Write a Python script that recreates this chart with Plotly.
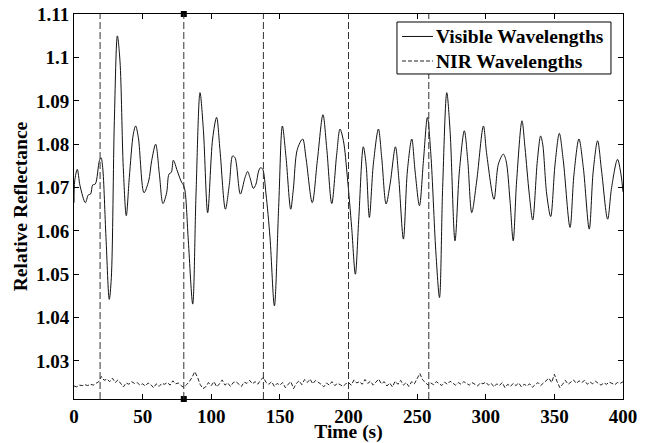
import plotly.graph_objects as go

vis_t = [0, 0.5, 2.4, 4.4, 8.3, 10.4, 12.1, 13.6, 15.5, 18.5, 19.7, 20.9, 23.3, 25.7, 27.2,
         29.4, 31.6, 33.5, 35.9, 38.1, 40.3, 43.2, 44.9, 46.9, 51.0, 54.4, 56.6, 59.5, 62.2,
         64.8, 67.5, 69.2, 70.9, 72.4, 75.3, 78.4, 79.7, 80.9, 83.3, 86.5, 88.9, 91.8, 94.3,
         97.4, 101.0, 103.9, 106.4, 110.3, 113.2, 115.6, 117.3, 121.2, 124.6, 126.5, 128.2,
         130.7, 132.6, 134.5, 136.0, 137.5, 139.9, 142.8, 146.0, 149.1, 151.8, 154.5, 157.9,
         159.8, 162.7, 166.6, 169.0, 173.6, 177.3, 181.4, 184.1, 187.8, 191.4, 193.8, 196.3,
         199.2, 202.3, 205.0, 207.4, 210.8, 212.8, 215.2, 218.1, 221.8, 224.2, 227.4, 230.3,
         234.2, 236.6, 240.0, 242.9, 246.1, 248.5, 251.7, 254.6, 257.5, 260.0, 263.6, 266.3,
         268.6, 271.6, 274.0, 277.6, 280.8, 284.4, 286.9, 289.8, 293.4, 298.3, 300.7, 306.0,
         309.2, 312.8, 314.8, 317.7, 320.0, 322.5, 326.4, 328.6, 331.7, 334.2, 337.6, 340.0,
         341.5, 344.4, 347.3, 350.5, 353.6, 356.5, 361.4, 364.3, 367.9, 371.1, 375.4, 378.3,
         381.5, 384.4, 388.8, 391.7, 396.0, 398.5, 400.0]
vis_r = [1.0665, 1.0715, 1.0742, 1.0704, 1.0665, 1.0683, 1.0685, 1.0706, 1.0708, 1.0762,
         1.0769, 1.0746, 1.0585, 1.0442, 1.0492, 1.0854, 1.1050, 1.0992, 1.0746, 1.0635,
         1.0723, 1.0823, 1.0842, 1.0815, 1.0688, 1.0715, 1.0762, 1.0800, 1.0731, 1.0663,
         1.0688, 1.0731, 1.0735, 1.0763, 1.0738, 1.0712, 1.0706, 1.0692, 1.0577, 1.0431,
         1.0685, 1.0919, 1.0831, 1.0642, 1.0812, 1.0862, 1.0785, 1.0650, 1.0708, 1.0773,
         1.0769, 1.0685, 1.0723, 1.0737, 1.0723, 1.0698, 1.0708, 1.0738, 1.0746, 1.0742,
         1.0685, 1.0585, 1.0427, 1.0654, 1.0842, 1.0769, 1.0650, 1.0696, 1.0788, 1.0812,
         1.0769, 1.0665, 1.0762, 1.0868, 1.0792, 1.0663, 1.0777, 1.0835, 1.0808, 1.0723,
         1.0608, 1.0500, 1.0623, 1.0794, 1.0754, 1.0631, 1.0754, 1.0835, 1.0769, 1.0662,
         1.0708, 1.0794, 1.0723, 1.0581, 1.0738, 1.0812, 1.0738, 1.0658, 1.0762, 1.0862,
         1.0777, 1.0554, 1.0446, 1.0700, 1.0919, 1.0831, 1.0577, 1.0738, 1.0831, 1.0762,
         1.0642, 1.0715, 1.0842, 1.0777, 1.0673, 1.0754, 1.0777, 1.0762, 1.0669, 1.0577,
         1.0715, 1.0854, 1.0792, 1.0685, 1.0625, 1.0762, 1.0819, 1.0800, 1.0685, 1.0633,
         1.0754, 1.0825, 1.0762, 1.0608, 1.0731, 1.0812, 1.0746, 1.0604, 1.0738, 1.0808,
         1.0738, 1.0627, 1.0700, 1.0765, 1.0731, 1.0690]

# NIR wavelengths, every 2 s
nir_t = list(range(0, 401, 2))
nir_r = [1.0242, 1.0240, 1.0244, 1.0243, 1.0245, 1.0243, 1.0246, 1.0244, 1.0248, 1.0252,
         1.0264, 1.0255, 1.0258, 1.0252, 1.0260, 1.0250, 1.0256, 1.0247, 1.0240, 1.0249,
         1.0246, 1.0252, 1.0248, 1.0250, 1.0244, 1.0247, 1.0242, 1.0249, 1.0245, 1.0238,
         1.0247, 1.0241, 1.0248, 1.0246, 1.0250, 1.0244, 1.0254, 1.0247, 1.0249, 1.0243,
         1.0239, 1.0245, 1.0252, 1.0262, 1.0275, 1.0262, 1.0245, 1.0236, 1.0240, 1.0250,
         1.0243, 1.0252, 1.0240, 1.0247, 1.0256, 1.0244, 1.0249, 1.0241, 1.0250, 1.0252,
         1.0246, 1.0241, 1.0251, 1.0248, 1.0255, 1.0247, 1.0252, 1.0246, 1.0256, 1.0262,
         1.0250, 1.0246, 1.0252, 1.0241, 1.0248, 1.0244, 1.0250, 1.0238, 1.0246, 1.0252,
         1.0236, 1.0248, 1.0254, 1.0245, 1.0257, 1.0250, 1.0258, 1.0247, 1.0255, 1.0251,
         1.0246, 1.0240, 1.0249, 1.0244, 1.0252, 1.0243, 1.0248, 1.0245, 1.0241, 1.0247,
         1.0250, 1.0244, 1.0256, 1.0249, 1.0252, 1.0246, 1.0257, 1.0248, 1.0253, 1.0244,
         1.0250, 1.0258, 1.0247, 1.0252, 1.0242, 1.0249, 1.0240, 1.0253, 1.0246, 1.0255,
         1.0244, 1.0250, 1.0241, 1.0252, 1.0247, 1.0258, 1.0271, 1.0256, 1.0250, 1.0244,
         1.0249, 1.0245, 1.0252, 1.0247, 1.0243, 1.0251, 1.0246, 1.0253, 1.0249, 1.0244,
         1.0250, 1.0246, 1.0252, 1.0248, 1.0244, 1.0250, 1.0245, 1.0242, 1.0249, 1.0247,
         1.0251, 1.0244, 1.0248, 1.0240, 1.0247, 1.0243, 1.0250, 1.0238, 1.0246, 1.0241,
         1.0248, 1.0243, 1.0249, 1.0240, 1.0246, 1.0242, 1.0247, 1.0239, 1.0245, 1.0250,
         1.0243, 1.0249, 1.0255, 1.0260, 1.0250, 1.0269, 1.0252, 1.0238, 1.0246, 1.0255,
         1.0246, 1.0252, 1.0256, 1.0248, 1.0254, 1.0250, 1.0255, 1.0246, 1.0251, 1.0247,
         1.0253, 1.0248, 1.0244, 1.0249, 1.0246, 1.0251, 1.0247, 1.0245, 1.0250, 1.0248,
         1.0252]

event_times = [19, 80, 138, 200, 258.5]
marker_time = 80

y_ticks = [1.03, 1.04, 1.05, 1.06, 1.07, 1.08, 1.09, 1.1, 1.11]
y_labels = ["1.03", "1.04", "1.05", "1.06", "1.07", "1.08", "1.09", "1.1", "1.11"]
x_ticks = list(range(0, 401, 50))

y_lo, y_hi = 1.0212, 1.11005
font = "Liberation Serif, Times New Roman, serif"

vis_style = dict(color="#111111", width=1)
nir_style = dict(color="#222222", width=1, dash="4px,2px")

fig = go.Figure()

fig.add_trace(go.Scatter(x=vis_t, y=vis_r, mode="lines", name="Visible Wavelengths",
                         line=dict(shape="spline", smoothing=0.9, **vis_style)))
fig.add_trace(go.Scatter(x=nir_t, y=nir_r, mode="lines", name="NIR Wavelengths",
                         line=nir_style))

# event markers
for t in event_times:
    fig.add_shape(type="line", xref="x", yref="y", x0=t, x1=t, y0=y_lo, y1=y_hi,
                  line=dict(color="#333333", width=1, dash="7px,3px"))
fig.add_trace(go.Scatter(x=[marker_time, marker_time], y=[y_lo, y_hi], mode="markers",
                         marker=dict(symbol="square", size=6, color="black"),
                         showlegend=False, cliponaxis=False))

# legend box drawn by hand (MATLAB-style, tighter rows than plotly's legend)
fig.add_shape(type="rect", xref="paper", yref="paper", x0=0.5883, x1=0.9781, y0=0.8442, y1=0.9792,
              line=dict(color="black", width=1), fillcolor="white", layer="above")
for name, style, yc in [("Visible Wavelengths", vis_style, 0.9416),
                        ("NIR Wavelengths", nir_style, 0.8779)]:
    fig.add_shape(type="line", xref="paper", yref="paper", x0=0.5975, x1=0.6539, y0=yc, y1=yc,
                  line=style, layer="above")
    fig.add_annotation(x=0.6557, y=yc, xref="paper", yref="paper", text=name, showarrow=False,
                       xanchor="left", yanchor="middle",
                       font=dict(family=font, size=19.5, color="black", weight="bold"))

axis_common = dict(showline=True, linecolor="black", linewidth=1, mirror="ticks",
                   ticks="inside", ticklen=5, tickcolor="black", showgrid=False, zeroline=False,
                   automargin=False, ticklabeloverflow="allow",
                   tickfont=dict(family=font, size=19, color="black", weight="bold"))

title_font = dict(family=font, size=19.5, color="black", weight="bold")

fig.update_xaxes(range=[0, 400], tickvals=x_ticks,
                 title=dict(text="Time (s)", font=title_font, standoff=1),
                 **axis_common)
fig.update_yaxes(range=[y_lo, y_hi], tickvals=y_ticks, ticktext=y_labels,
                 title=dict(text="Relative Reflectance", font=title_font, standoff=3),
                 **axis_common)

# the page adds an 8px body margin, so the figure is 8px smaller on each side
fig.update_layout(
    width=641, height=435,
    margin=dict(l=66, r=26, t=6, b=44),
    paper_bgcolor="white", plot_bgcolor="white",
    showlegend=False,
)

fig.write_html("out.html")
